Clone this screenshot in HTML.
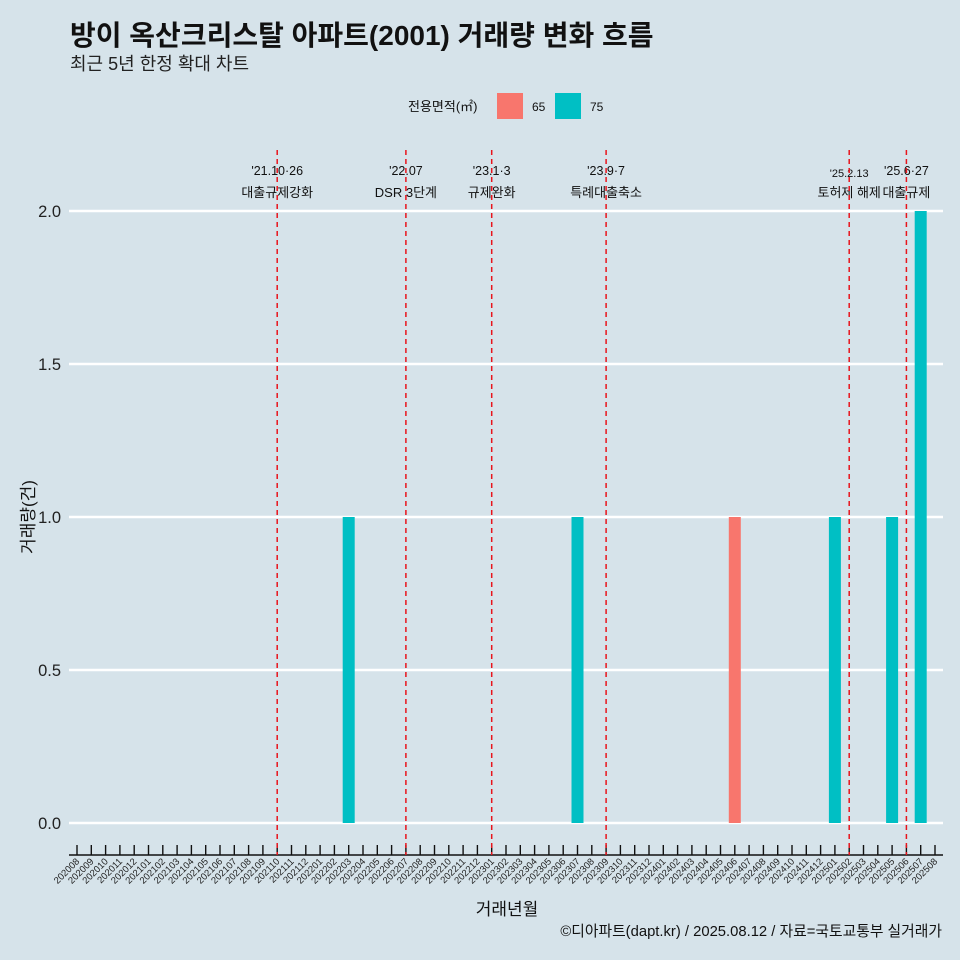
<!DOCTYPE html>
<html><head><meta charset="utf-8"><style>
body{margin:0;background:#d6e3ea;}
svg{display:block;font-family:"Liberation Sans","Noto Sans CJK KR",sans-serif;}
</style></head><body>
<svg id="c" width="960" height="960" viewBox="0 0 960 960">
<rect width="960" height="960" fill="#d6e3ea"/>
<text x="70" y="45" font-size="28" font-weight="bold" fill="#111">방이 옥산크리스탈 아파트(2001) 거래량 변화 흐름</text>
<text x="70" y="70" font-size="18" fill="#222">최근 5년 한정 확대 차트</text>
<g>
<text x="408" y="111" font-size="13" fill="#111">전용면적(㎡)</text>
<rect x="497" y="93" width="26" height="26" fill="#f8766d"/>
<text x="532" y="111" font-size="12" fill="#111">65</text>
<rect x="555" y="93" width="26" height="26" fill="#00bfc4"/>
<text x="590" y="111" font-size="12" fill="#111">75</text>
</g>
<g id="plot"></g>
<text x="507" y="915" font-size="17" text-anchor="middle" fill="#111">거래년월</text>
<text transform="translate(34,517) rotate(-90)" font-size="17" text-anchor="middle" fill="#111">거래량(건)</text>
<text x="942" y="936" font-size="14.8" text-anchor="end" fill="#111">©디아파트(dapt.kr) / 2025.08.12 / 자료=국토교통부 실거래가</text>
</svg>
<script>
const months=[];for(let y=2020;y<=2025;y++)for(let m=1;m<=12;m++){const s=''+y+String(m).padStart(2,'0');if(s>='202008'&&s<='202508')months.push(s);}
const barMonths=['202203','202307','202406','202501','202505','202507'];
const barSizes=['75','75','65','75','75','75'];
const barValues=[1,1,1,1,1,2];
const yTicks=[0,0.5,1,1.5,2];
const yTickLabels=['0.0','0.5','1.0','1.5','2.0'];
const eventMonths=['202110','202207','202301','202309','202502','202506'];
const eventDates=["'21.10·26","'22.07","'23.1·3","'23.9·7","'25.2.13","'25.6·27"];
const eventNames=['대출규제강화','DSR 3단계','규제완화','특례대출축소','토허제 해제','대출규제'];
const NS='http://www.w3.org/2000/svg';
const g=document.getElementById('plot');
const x=m=>77+months.indexOf(m)*(935-77)/(months.length-1);
const y=v=>823-v*306;
function mk(t,a,txt){const e=document.createElementNS(NS,t);for(const k in a)e.setAttribute(k,a[k]);if(txt!==undefined)e.textContent=txt;g.appendChild(e);return e;}
yTicks.forEach((v,i)=>{
 let l=mk('line',{x1:69,x2:943,y1:y(v),y2:y(v),stroke:'#fff','stroke-width':2.6});
 
 
 let t=mk('text',{x:61,y:y(v)+6,'font-size':16.5,'text-anchor':'end',fill:'#222'},yTickLabels[i]);
 
 
});
barMonths.forEach((m,i)=>{
 let r=mk('rect',{x:x(m)-6,y:y(barValues[i]),width:12,height:y(0)-y(barValues[i]),fill:barSizes[i]==='65'?'#f8766d':'#00bfc4'});
 
 
});
let ax=mk('line',{x1:69,x2:943,y1:855,y2:855,stroke:'#111','stroke-width':1.4});


months.forEach(m=>{
 let t=mk('line',{x1:x(m),x2:x(m),y1:845,y2:855,stroke:'#111','stroke-width':1.4});
 
 
 let l=mk('text',{transform:`translate(${x(m)+3},${862}) rotate(-45)`,'font-size':9.5,'text-anchor':'end',fill:'#222'},m);
 
 
});
eventMonths.forEach((m,i)=>{
 const small=i===4;
 let d=mk('text',{x:x(m),y:small?177:175,'font-size':small?11:12.5,'text-anchor':'middle',fill:'#111'},eventDates[i]);
 
 
 let n=mk('text',{x:x(m),y:197,'font-size':13,'text-anchor':'middle',fill:'#111'},eventNames[i]);
 
 
 let v=mk('line',{x1:x(m),x2:x(m),y1:150,y2:855,stroke:'#e8141c','stroke-width':1.5,'stroke-dasharray':'5,4'});
 
 
});
</script>
</body></html>
